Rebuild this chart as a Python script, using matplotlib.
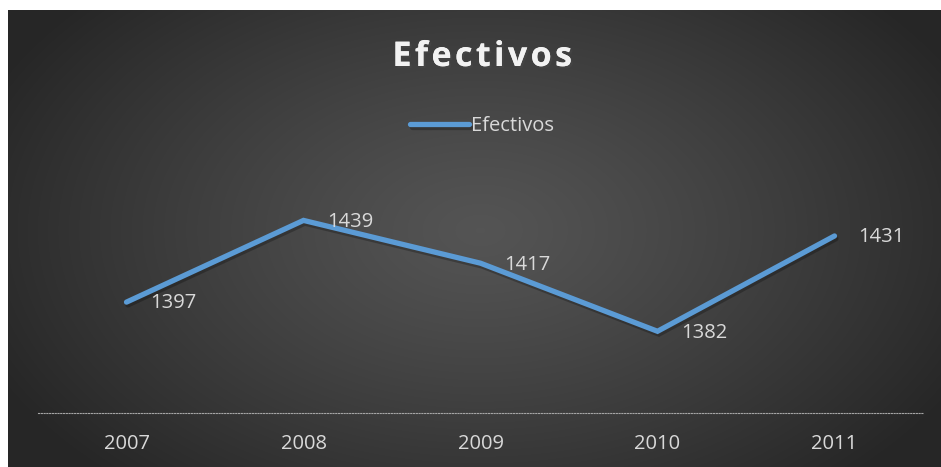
import matplotlib.pyplot as plt
import matplotlib.patheffects as pe
import numpy as np

years = ['2007', '2008', '2009', '2010', '2011']
efectivos = [1397, 1439, 1417, 1382, 1431]

W, H = 941, 467
fig = plt.figure(figsize=(W / 100, H / 100), dpi=100)
fig.patch.set_facecolor('white')

# dark panel with radial shading
bg = fig.add_axes([8 / W, 0, (W - 8) / W, (H - 10) / H])
bg.set_axis_off()
yy, xx = np.mgrid[0:H - 10, 0:W - 8]
cx, cy = 472, 220
r = np.sqrt(((xx - cx) / 540.0) ** 2 + ((yy - cy) / 340.0) ** 2)
r = np.clip(r, 0, 1)
shade = 0.33 - 0.18 * r ** 1.2
bg.imshow(np.dstack([shade] * 3), aspect='auto', interpolation='bilinear')

font = 'Open Sans'
fig.text(482 / W, 1 - 57 / H, '\u200a'.join('Efectivos'), ha='center', va='center',
         fontsize=24.5, fontweight='bold', color='#f2f2f2', family=font,
         path_effects=[pe.withSimplePatchShadow(offset=(1.5, -1.5), alpha=0.5), pe.Normal()])

ax = fig.add_axes([38 / W, (H - 413) / H, 885 / W, (413 - 199) / H])
ax.set_facecolor('none')
x = np.arange(len(years))
line, = ax.plot(x, efectivos, color='#5b9bd5', lw=3.8, solid_capstyle='round',
                solid_joinstyle='miter', label='Efectivos',
                path_effects=[pe.SimpleLineShadow(offset=(1, -2), alpha=0.25), pe.Normal()])
ax.set_xlim(-0.5, len(years) - 0.5)
ax.set_ylim(1340, 1450)
ax.set_xticks(x)
ax.set_xticklabels(years, fontsize=14.5, color='#d9d9d9', family=font)
ax.tick_params(axis='x', length=0, pad=15)
ax.set_yticks([])
for s in ['top', 'left', 'right']:
    ax.spines[s].set_visible(False)
ax.spines['bottom'].set_color('#a6a6a6')
ax.spines['bottom'].set_linestyle((0, (1, 1.5)))
ax.spines['bottom'].set_linewidth(0.8)

for xi, v in zip(x, efectivos):
    ax.annotate(str(v), (xi, v), xytext=(17, -1), textcoords='offset points',
                ha='left', va='center', fontsize=14.5, color='#d9d9d9', family=font)

leg = fig.legend(handles=[line], loc='center', bbox_to_anchor=(482 / W, 1 - 126 / H),
                 frameon=False, handlelength=2.9, handletextpad=0.1,
                 prop={'family': font, 'size': 14.5})
for t in leg.get_texts():
    t.set_color('#d9d9d9')

fig.savefig('out.png', dpi=100, facecolor=fig.get_facecolor())
